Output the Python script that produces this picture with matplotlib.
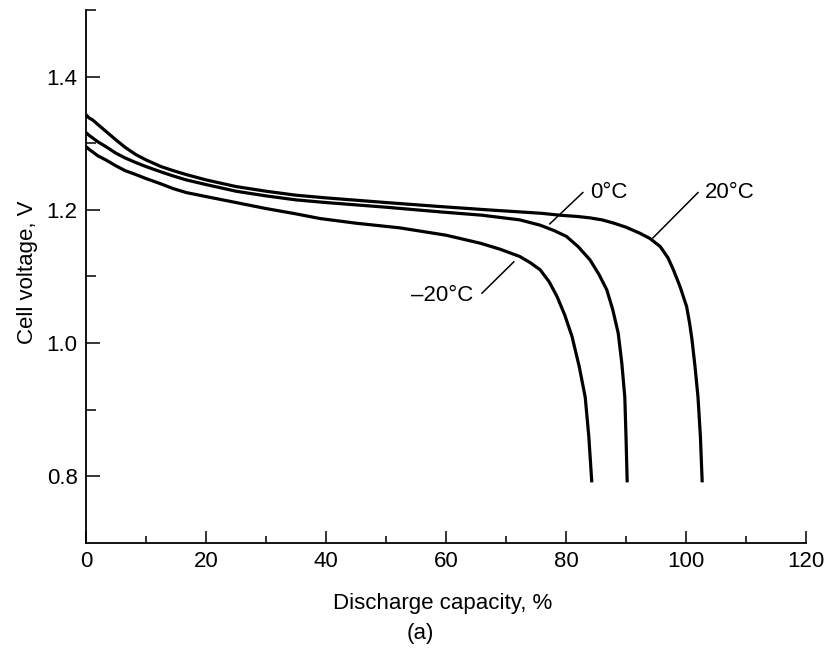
import numpy as np
import matplotlib.pyplot as plt
from matplotlib.ticker import MultipleLocator

plt.rcParams["font.family"] = ["Liberation Sans", "DejaVu Sans"]

# discharge curves (capacity %, cell voltage V)
cap_20 = [0, 0.5, 1.1, 2, 3.3, 5, 6.5, 8.3, 10, 12.5, 14.5, 16.7, 20, 25, 30,
          35, 40, 50, 59, 67, 75.7, 79, 82, 84, 86, 88, 90, 92.3, 94, 95.7,
          97, 97.9, 99, 100.1, 100.6, 101, 101.5, 102, 102.4, 102.7]
volt_20 = [1.343, 1.338, 1.335, 1.328, 1.318, 1.305, 1.294, 1.283, 1.275, 1.265,
           1.259, 1.253, 1.245, 1.235, 1.228, 1.222, 1.218, 1.211, 1.205, 1.200,
           1.195, 1.192, 1.190, 1.188, 1.185, 1.180, 1.174, 1.165, 1.157, 1.145,
           1.128, 1.110, 1.085, 1.055, 1.030, 1.005, 0.965, 0.919, 0.860, 0.791]

cap_0 = [0, 0.5, 1.1, 2, 3.3, 5, 6.5, 8.3, 10, 12.5, 14.5, 16.7, 20, 25, 30,
         35, 40, 50, 59, 66, 72.3, 75.7, 78, 80.1, 82, 84, 85.5, 86.8, 87.8,
         88.7, 89.3, 89.8, 90.0, 90.2]
volt_0 = [1.316, 1.312, 1.308, 1.302, 1.295, 1.285, 1.278, 1.271, 1.265, 1.257,
          1.251, 1.245, 1.238, 1.228, 1.221, 1.215, 1.211, 1.204, 1.197, 1.192,
          1.185, 1.177, 1.169, 1.160, 1.145, 1.125, 1.103, 1.080, 1.050, 1.015,
          0.970, 0.919, 0.860, 0.791]

cap_m20 = [0, 0.5, 1.1, 2, 3.3, 5, 6.5, 8.3, 10, 12.5, 14.5, 16.7, 20, 25, 30,
           35, 39, 45, 52.3, 60, 65.7, 69, 72.3, 74, 75.7, 77.2, 78.5, 79.8,
           81, 82.2, 83.2, 83.8, 84.3]
volt_m20 = [1.295, 1.291, 1.287, 1.281, 1.275, 1.266, 1.259, 1.253, 1.247,
            1.239, 1.232, 1.226, 1.220, 1.211, 1.202, 1.194, 1.187, 1.180,
            1.173, 1.162, 1.150, 1.141, 1.130, 1.121, 1.110, 1.092, 1.070,
            1.042, 1.010, 0.965, 0.919, 0.860, 0.791]

x_major = [0, 20, 40, 60, 80, 100, 120]
y_major = [0.8, 1.0, 1.2, 1.4]

fig = plt.figure(figsize=(8.25, 6.53), dpi=100)
ax = fig.add_axes([86 / 825, 1 - 543 / 653, 720 / 825, 533 / 653])

for cx, vy in [(cap_20, volt_20), (cap_0, volt_0), (cap_m20, volt_m20)]:
    ax.plot(cx, vy, color="black", lw=2.3, solid_capstyle="butt",
            solid_joinstyle="round")

# leader lines + labels
ax.plot([77.3, 82.8], [1.179, 1.226], color="black", lw=1.1)
ax.text(84, 1.226, "0°C", fontsize=16, va="center", ha="left")
ax.plot([94.5, 102], [1.158, 1.226], color="black", lw=1.1)
ax.text(103.2, 1.226, "20°C", fontsize=16, va="center", ha="left")
ax.plot([71.3, 66], [1.122, 1.075], color="black", lw=1.1)
ax.text(64.5, 1.072, "\u201320°C", fontsize=16, va="center", ha="right")

ax.set_xlim(0, 120)
ax.set_ylim(0.7, 1.5)
ax.set_xticks(x_major)
ax.set_yticks(y_major)
ax.xaxis.set_minor_locator(MultipleLocator(10))
ax.set_yticks([0.9, 1.1, 1.3, 1.5], minor=True)
ax.set_yticklabels([f"{v:.1f}" for v in y_major])

ax.tick_params(which="both", direction="in", width=1.1, labelsize=16, pad=6)
ax.tick_params(axis="x", which="major", length=9)
ax.tick_params(axis="x", which="minor", length=5)
ax.tick_params(axis="y", which="major", length=10)
ax.tick_params(axis="y", which="minor", length=7)

ax.spines["top"].set_visible(False)
ax.spines["right"].set_visible(False)
for s in ["left", "bottom"]:
    ax.spines[s].set_linewidth(1.3)

fig.text(443 / 825, 1 - 603 / 653, "Discharge capacity, %", fontsize=16,
         ha="center", va="center")
fig.text(28 / 825, 1 - 272 / 653, "Cell voltage, V", fontsize=16,
         ha="center", va="center", rotation=90)
fig.text(420 / 825, 1 - 634 / 653, "(a)", fontsize=16, ha="center", va="center")

fig.savefig("out.png", dpi=100)
